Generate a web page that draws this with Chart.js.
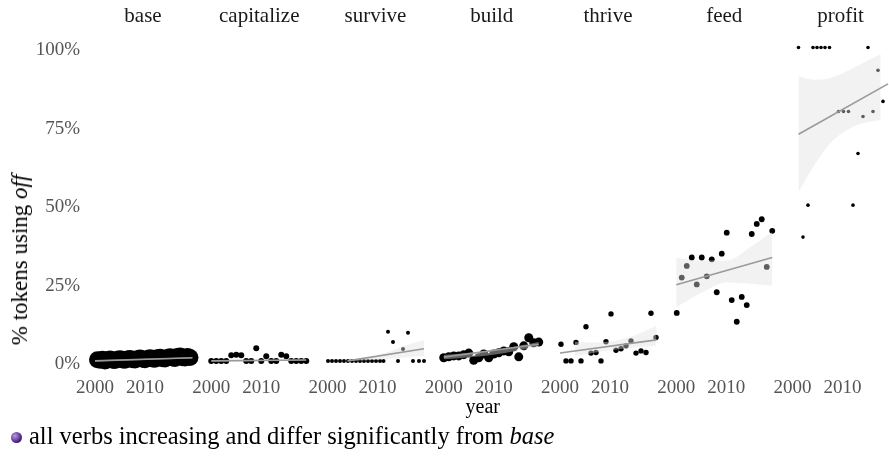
<!DOCTYPE html>
<html>
<head>
<meta charset="utf-8">
<script src="https://cdn.jsdelivr.net/npm/chart.js@4"></script>
<style>
  body { margin: 0; background: #fff; overflow: hidden; }
  #wrap { position: relative; width: 889px; height: 462px; font-family: "Liberation Serif", serif; }
  canvas { display: block; }
  #ytitle { position: absolute; left: 20px; top: 260px; transform: translate(-50%, -50%) rotate(-90deg);
            white-space: nowrap; font-size: 23px; color: #000; }
  #caption { position: absolute; left: 11px; top: 422px; font-size: 24.5px; white-space: nowrap; color: #000; }
  .bullet { display: inline-block; width: 11px; height: 11px; border-radius: 50%; margin-right: 7px;
            vertical-align: 1px; background: radial-gradient(circle at 35% 35%, #b79be0, #4a1f80 65%, #2c0f55); }
</style>
</head>
<body>
<div id="wrap">
  <canvas id="chart" width="889" height="462"></canvas>
  <div id="ytitle">% tokens using <i>off</i></div>
  <div id="caption"><span class="bullet"></span>all verbs increasing and differ significantly from <i>base</i></div>
</div>
<script>
const verbs = ['base', 'capitalize', 'survive', 'build', 'thrive', 'feed', 'profit'];
const yTicks = [0, 25, 50, 75, 100];
const xTickYears = [2000, 2010];

// points (year, % using off)
const baseYears = [2000.5,2001,2001.5,2002,2002.5,2003,2003.5,2004,2004.5,2005,2005.5,2006,2006.5,2007,2007.5,2008,2008.5,2009,2009.5,
                   2010,2010.5,2011,2011.5,2012,2012.5,2013,2013.5,2014,2014.5,2015,2015.5,2016,2016.5,2017,2017.5,2018,2018.5,2019];
const baseValues = [0.4,0.2,0.5,0,0.3,0.6,0.2,0.1,0.5,0.7,0.3,0.2,0.6,0.8,0.4,0.3,0.7,0.9,0.5,
                    0.4,0.8,1.0,0.6,0.5,1.0,1.2,0.7,0.6,1.1,1.3,0.9,0.8,1.4,1.6,1.0,0.9,1.4,1.1];
const capitalizeYears = [2000,2001,2002,2003,2004,2005,2006,2007,2008,2009,2010,2011,2012,2013,2014,2015,2016,2017,2018,2019];
const capitalizeValues = [0,0,0,0,1.8,2,1.8,0,0,4,0,1.5,0,0,2,1.5,0,0,0,0];
const surviveYears = [2000.1,2000.9,2001.7,2002.5,2003.3,2004.1,2004.9,2005.7,2006.5,2007.3,2008.1,2008.9,2009.7,2010.5,2011.2,
                      2012.1,2013.1,2014.1,2015.1,2016.1,2017.1,2018.3,2019.3];
const surviveValues = [0,0,0,0,0,0,0,0,0,0,0,0,0,0,0, 9.3,6.0,0,3.8,9.0,0,0,0];
const buildYears = [2000,2001,2002,2003,2004,2005,2006,2007,2008,2009,2010,2011,2012,2013,2014,2015,2016,2017,2018,2019];
const buildValues = [1.0,1.3,1.6,1.6,2.0,2.5,0.2,1.0,2.2,1.0,2.2,2.6,3.2,2.9,4.5,1.3,4.8,7.4,5.8,6.0];
const thriveYears = [2000.2,2001.2,2002.2,2003.2,2004.2,2005.2,2006.2,2007.2,2008.2,2009.2,2010.2,2011.2,2012.2,2013.2,2014.2,2015.2,2016.2,2017.2,2018.2,2019.2];
const thriveValues = [5.3,0,0,5.9,0,10.9,2.5,2.7,0,6.1,15,3.4,3.9,4.8,6.4,2.5,3.2,2.7,15.2,7.5];
const feedYears = [2000.1,2001.1,2002.1,2003.1,2004.1,2005.1,2006.1,2007.1,2008.1,2009.1,2010.1,2011.1,2012.1,2013.1,2014.1,2015.1,2016.1,2017.1,2018.1,2019.2];
const feedValues = [15.3,26.6,30.3,33,24.4,33,27,32.4,21.9,34.2,40.9,19.4,12.5,20.4,17.8,40.5,43.7,45.2,30,41.5];
const profitYears = [2001.2,2002.1,2003.1,2004.1,2004.9,2005.7,2006.5,2007.4,2009.2,2010.2,2011.2,2012.1,2013.1,2014.1,2015.1,2016.1,2017.1,2018.1,2019.1];
const profitValues = [100,39.5,49.7,100,100,100,100,100,79.6,79.6,79.6,49.7,66.2,78,100,79.6,92.7,82.8,90.3];

// fitted lines and confidence bands
const fitYears = [[2000,2019.5],[2000,2019],[2004,2019.3],[2000,2019],[2000,2019.3],[2000,2019.2],[2001.2,2019.1]];
const fitValues = [[0,1.0],[0,0.3],[0,3.9],[1.2,5.3],[2.5,6.7],[24.3,33],[72.3,88.4]];
const bandYears = [[2000,2019.5],[2000,2019],[2004,2007.9,2011.9,2015.9,2019.3],[2000,2010,2019],
                   [2003,2006,2010,2015,2019.3],[2000,2004.7,2010.1,2014.8,2019.2],[2001.2,2004.2,2007.5,2010.9,2014.2,2017.5,2019.1]];
const bandUpper = [[0.2,1.2],[0.15,0.45],[0,1.1,2.7,5.1,6.6],[1.9,3.4,6.0],[6.1,5.9,6.2,8.2,11.2],[32.8,32,32,36.3,41.1],[90.8,89.7,90.3,92.4,95.1,97.8,98.8]];
const bandLower = [[-0.2,0.8],[-0.15,0.15],[0,0.2,0.6,1.2,1.6],[0.5,2.0,4.6],[1.6,2.4,3.4,4.3,4.8],[17.1,21.4,25,24.6,24],[53.9,62,69.4,73.7,75.9,76.9,77.5]];

const PANEL = 23.25;
const FONT = '"Liberation Serif", serif';
const pointYears = [baseYears, capitalizeYears, surviveYears, buildYears, thriveYears, feedYears, profitYears];
const pointValues = [baseValues, capitalizeValues, surviveValues, buildValues, thriveValues, feedValues, profitValues];
const pointRadius = [8.5, 3, 2, 4.5, 2.7, 2.9, 1.8];

function pts(i, years, vals) {
  return years.map((yr, k) => ({ x: i * PANEL + yr - 2000, y: vals[k] }));
}

const datasets = [];
verbs.forEach((v, i) => {
  datasets.push({
    data: pts(i, pointYears[i], pointValues[i]), showLine: false, clip: false,
    pointRadius: pointRadius[i], pointBackgroundColor: '#000', pointBorderWidth: 0, order: 2
  });
  datasets.push({
    data: pts(i, bandYears[i], bandLower[i]), borderWidth: 0, pointRadius: 0, clip: false,
    fill: false, cubicInterpolationMode: 'monotone', order: 1
  });
  datasets.push({
    data: pts(i, bandYears[i], bandUpper[i]), borderWidth: 0, pointRadius: 0, clip: false,
    fill: '-1', backgroundColor: 'rgba(225,225,225,0.42)', cubicInterpolationMode: 'monotone', order: 1
  });
  datasets.push({
    data: pts(i, fitYears[i], fitValues[i]), borderColor: '#9a9a9a', borderWidth: 1.6, clip: false,
    pointRadius: 0, fill: false, order: 0
  });
});

const chart = new Chart(document.getElementById('chart'), {
  type: 'line',
  data: { datasets: datasets },
  options: {
    responsive: false,
    animation: false,
    layout: { padding: { left: 0, right: 0, top: 0, bottom: 40 } },
    plugins: { legend: { display: false }, tooltip: { enabled: false } },
    scales: {
      x: {
        type: 'linear', min: -2, max: 158.8,
        grid: { display: false, drawTicks: false }, border: { display: false },
        afterBuildTicks: s => {
          s.ticks = [];
          verbs.forEach((v, i) => xTickYears.forEach(yr => s.ticks.push({ value: i * PANEL + yr - 2000 })));
        },
        ticks: {
          autoSkip: false, maxRotation: 0, padding: 7, color: '#555', font: { family: FONT, size: 19 },
          callback: (val, idx) => String(xTickYears[idx % 2])
        },
        title: { display: true, text: 'year', color: '#000', font: { family: FONT, size: 20 }, padding: 2 },
        afterFit: s => { s.height = 52; }
      },
      x2: {
        type: 'linear', axis: 'x', position: 'top', min: -2, max: 158.8,
        grid: { display: false, drawTicks: false }, border: { display: false },
        afterBuildTicks: s => { s.ticks = verbs.map((v, i) => ({ value: i * PANEL + 9.6 })); },
        ticks: {
          autoSkip: false, maxRotation: 0, padding: 0, color: '#1a1a1a', font: { family: FONT, size: 21 },
          callback: (val, idx) => verbs[idx]
        },
        afterFit: s => { s.height = 29; }
      },
      y: {
        min: -2.9, max: 105.9,
        grid: { display: false, drawTicks: false }, border: { display: false },
        afterBuildTicks: s => { s.ticks = yTicks.map(v => ({ value: v })); },
        ticks: {
          padding: 5, labelOffset: 3, color: '#555', font: { family: FONT, size: 19 },
          callback: v => v + '%'
        },
        afterFit: s => { s.width = 85; }
      }
    }
  }
});

// keep 5 px per year whatever width the plot area ends up with
const areaWidth = chart.chartArea.right - chart.chartArea.left;
chart.options.scales.x.max = -2 + areaWidth / 5;
chart.options.scales.x2.max = -2 + areaWidth / 5;
chart.update();
</script>
</body>
</html>
